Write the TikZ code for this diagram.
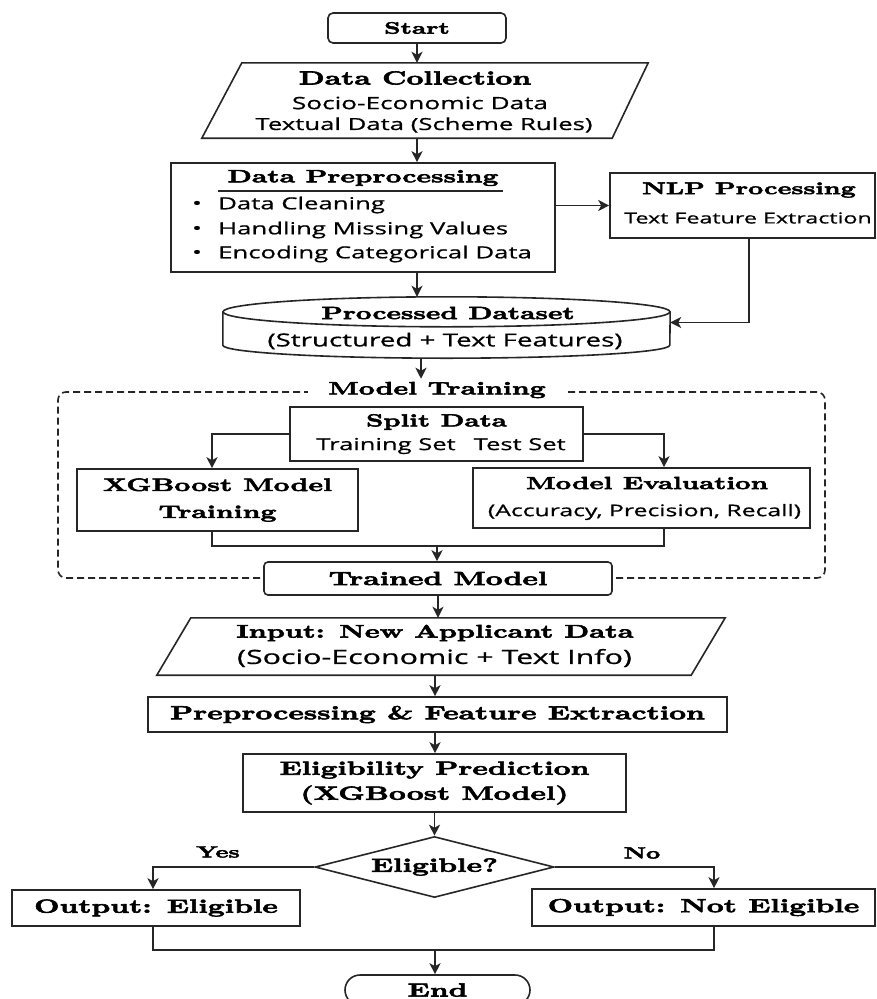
\documentclass[tikz,border=0pt]{standalone}
\usepackage{fontspec}
\usetikzlibrary{arrows.meta,shapes.geometric,calc}
\newfontfamily\ttlfont{lmroman10-bold}[Extension=.otf,FakeStretch=1.55,FakeBold=3]
\newfontfamily\subfont{Open Sans}[FakeStretch=1.55,FakeBold=0.8]
\newcommand\tf[1]{\ttlfont\fontsize{#1}{#1}\selectfont}
\newcommand\sfz[1]{\subfont\fontsize{#1}{#1}\selectfont}
\tikzset{
  ln/.style={line width=1.6pt, draw=black!85},
  box/.style={ln, rectangle, inner sep=0pt, fill=white},
  rbox/.style={box, rounded corners=5pt},
  arr/.style={ln, -{Stealth[length=11pt,width=11pt,inset=3pt]}},
  txt/.style={inner sep=0pt, text=black},
  frm/.style={inner sep=0pt, draw=none}
}
\begin{document}
\begin{tikzpicture}[x=1pt,y=-1pt]
\useasboundingbox (0,0) rectangle (877,999);
\clip (0,0) rectangle (877,999);
\fill[white] (0,0) rectangle (877,999);

% column coordinates
\coordinate (cx) at (417,0);
\coordinate (c2) at (421,0);
\coordinate (cx3) at (435,0);

% Start
\node[rbox, minimum width=178pt, minimum height=30pt, font=\tf{16.5}] (start) at (417,28) {Start};

% Data Collection (parallelogram)
\node[frm, minimum width=408pt, minimum height=75pt] (dc) at (426,100.5) {};
\draw[ln] ([xshift=20pt]dc.north west) -- ([xshift=18pt]dc.north east) -- ([xshift=-18pt]dc.south east) -- ([xshift=-20pt]dc.south west) -- cycle;
\node[txt, font=\tf{19}] (dct) at (415,78) {Data Collection};
\node[txt, font=\sfz{16.9}] (dcs1) at (420,103) {Socio-Economic Data};
\node[txt, font=\sfz{16.6}] (dcs2) at (424,125) {Textual Data (Scheme Rules)};

% Data Preprocessing
\node[box, minimum width=384pt, minimum height=109pt] (dp) at (363,217.5) {};
\node[txt, font=\tf{17.8}] (dpt) at (363,178) {Data Preprocessing};
\draw[ln, line width=1.2pt] (218,191) -- (503,191);
\node[txt, font=\sfz{16.6}] (b1) at (197,205) {•};
\node[txt, font=\sfz{16.6}] (b2) at (197,230) {•};
\node[txt, font=\sfz{16.6}] (b3) at (197,254) {•};
\node[txt, font=\sfz{16.6}, anchor=west] (bt1) at (218,205) {Data Cleaning};
\node[txt, font=\sfz{16.6}, anchor=west] (bt2) at (218,230) {Handling Missing Values};
\node[txt, font=\sfz{16.6}, anchor=west] (bt3) at (218,254) {Encoding Categorical Data};

% NLP
\node[box, minimum width=265pt, minimum height=65pt] (nlp) at (742.5,205.5) {};
\node[txt, font=\tf{17}] (nlpt) at (749,190) {NLP Processing};
\node[txt, font=\sfz{15}] (nlps) at (748,218) {Text Feature Extraction};

% Processed dataset (cylinder)
\node[frm, minimum width=447pt, minimum height=61pt] (pd) at (446.5,327.5) {};
\draw[ln] ($(pd.north)+(0,15)$) ellipse [x radius=223.5pt, y radius=15pt];
\draw[ln] ($(pd.north west)+(0,15)$) -- ($(pd.south west)+(0,-13)$)
  arc[start angle=180, end angle=360, x radius=223.5pt, y radius=13pt]
  -- ($(pd.north east)+(0,15)$);
\node[txt, font=\tf{17.7}] (pdt) at (448,313) {Processed Dataset};
\node[txt, font=\sfz{17.9}] (pds) at (445,341) {(Structured + Text Features)};

% Model training frame
\node[ln, dashed, dash pattern=on 7pt off 4pt, rounded corners=8pt, inner sep=0pt, minimum width=767pt, minimum height=186pt] (mtf) at (441.5,485) {};
\node[txt, fill=white, inner xsep=20pt, inner ysep=3pt, font=\tf{18}] (mt) at (437,390) {Model Training};

% Split data
\node[box, minimum width=293pt, minimum height=54pt] (split) at (436.5,434) {};
\node[txt, font=\tf{17.5}] (splitt) at (436.5,422) {Split Data};
\node[txt, font=\sfz{16.5}] (splits) at (441,446) {Training Set\hspace{18pt}Test Set};

% XGBoost training
\node[box, minimum width=281pt, minimum height=62pt, align=center, font=\tf{18}] (xgb) at (217.5,500) {XGBoost Model\\[9pt]Training};

% Model evaluation
\node[box, minimum width=337pt, minimum height=60pt] (me) at (641.5,498) {};
\node[txt, font=\tf{17.5}] (met) at (647,483) {Model Evaluation};
\node[txt, font=\sfz{16}] (mes) at (644.5,512) {(Accuracy, Precision, Recall)};

% Trained model
\node[rbox, rounded corners=4pt, minimum width=348pt, minimum height=33pt, font=\tf{19}] (tm) at (438,578.5) {Trained Model};

% Input
\node[frm, minimum width=534pt, minimum height=57pt] (inp) at (441,646.5) {};
\draw[ln] ([xshift=17pt]inp.north west) -- ([xshift=17pt]inp.north east) -- ([xshift=-17pt]inp.south east) -- ([xshift=-17pt]inp.south west) -- cycle;
\node[txt, font=\tf{18.3}] (inpt) at (435,633) {Input: New Applicant Data};
\node[txt, font=\sfz{19.6}] (inps) at (434.5,658) {(Socio-Economic + Text Info)};

% Preprocessing & feature extraction
\node[box, minimum width=579pt, minimum height=35pt, font=\tf{19}] (pf) at (437.5,714.5) {Preprocessing \& Feature Extraction};

% Eligibility prediction
\node[box, minimum width=383pt, minimum height=58pt, align=center, font=\tf{19}] (ep) at (434.5,783) {Eligibility Prediction\\[6pt](XGBoost Model)};

% Decision
\node[ln, diamond, inner sep=0pt, minimum width=239pt, minimum height=61pt, aspect=3.9, font=\tf{19}] (dia) at (434.5,867) {Eligible?};
\node[txt, font=\tf{16}] (yes) at (218,852) {Yes};
\node[txt, font=\tf{16}] (no) at (642,853) {No};

% Outputs
\node[box, minimum width=288pt, minimum height=36pt, font=\tf{19}] (oe) at (156,908) {Output: Eligible};
\node[box, minimum width=343pt, minimum height=37pt, font=\tf{19}] (one) at (703.5,907.5) {Output: Not Eligible};

% End
\node[box, rounded corners=15pt, minimum width=185pt, minimum height=30pt, font=\tf{19}] (end) at (437.5,990) {End};

% Connectors
\draw[arr] (start.south) -- (start.south |- dc.north);
\draw[arr] (dc.south -| cx) -- (dp.north -| cx);
\draw[arr] (dp.east |- nlp.west) -- (nlp.west);
\draw[arr] (dp.south -| cx) -- (pd.north -| cx);
\draw[arr] ([xshift=6.5pt]nlp.south) |- ($(pd.east)+(0,-5)$);
\draw[arr] (pd.south -| c2) -- (mt.north -| c2);
\draw[arr] (split.west) -| ([xshift=-5.5pt]xgb.north);
\draw[arr] (split.east) -| ([xshift=22.5pt]me.north);
\coordinate (m1) at (437,546);
\draw[ln] ([xshift=-5.5pt]xgb.south) |- (m1) -| ([xshift=22.5pt]me.south);
\draw[arr] (m1) -- (m1 |- tm.north);
\draw[arr] (tm.south) -- (tm.south |- inp.north);
\draw[arr] (inp.south -| cx3) -- (pf.north -| cx3);
\draw[arr] (pf.south -| cx3) -- (ep.north -| cx3);
\draw[arr] (ep.south -| dia.north) -- (dia.north);
\draw[arr] (dia.west) -| ([xshift=-3pt]oe.north);
\draw[arr] (dia.east) -| ([xshift=10.5pt]one.north);
\coordinate (m2) at (435,950);
\draw[ln] ([xshift=-3pt]oe.south) |- (m2) -| ([xshift=10.5pt]one.south);
\draw[arr] (m2) -- (m2 |- end.north);
\end{tikzpicture}
\end{document}
